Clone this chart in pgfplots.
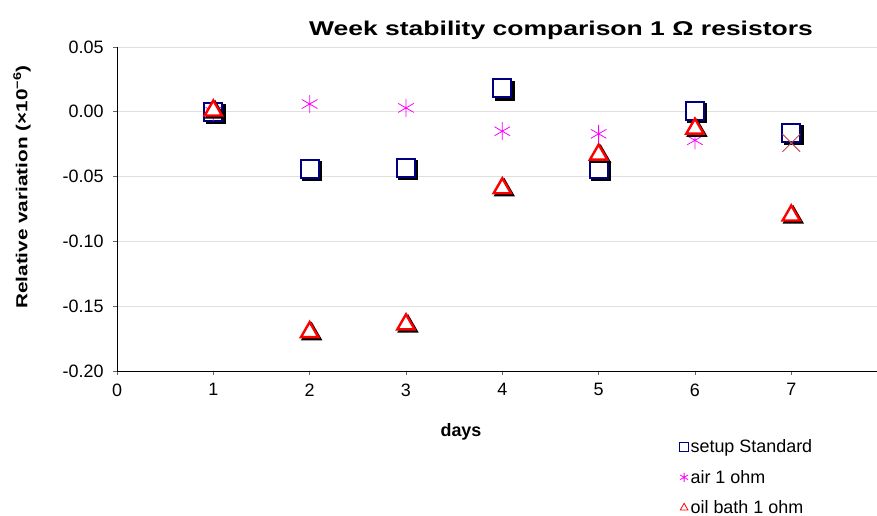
\documentclass[border=0pt]{standalone}
\usepackage{graphicx}
\usepackage{fontspec}
\setmainfont{Liberation Sans}
\usepackage{pgfplots}
\usepackage{pgfplotstable}
\pgfplotsset{compat=1.18}
\definecolor{stdnavy}{RGB}{0,0,128}
\definecolor{airmag}{RGB}{255,0,255}
\definecolor{oilred}{RGB}{255,0,0}
\definecolor{xbrown}{RGB}{192,80,77}

\pgfplotstableread{
day val
1 0.000
2 -0.044
3 -0.043
4 0.018
5 -0.044
6 0.001
7 -0.016
}\standard
\pgfplotstableread{
day val
1 0.000
2 0.006
3 0.003
4 -0.015
5 -0.017
6 -0.022
}\air
\pgfplotstableread{
day val
7 -0.024
}\airlast
\pgfplotstableread{
day val
1 0.001
2 -0.170
3 -0.164
4 -0.059
5 -0.033
6 -0.013
7 -0.080
}\oil

\begin{document}
\begin{tikzpicture}
\useasboundingbox (0bp,0bp) rectangle (877bp,516bp);
\begin{axis}[
  at={(117bp,145bp)}, anchor=south west,
  scale only axis, width=760bp, height=324bp,
  xmin=0, xmax=7.89, ymin=-0.2, ymax=0.05,
  xtick={0,...,7}, ytick={-0.2,-0.15,...,0.05},
  axis x line*=bottom, axis y line*=left,
  axis line style={black, line width=0.8bp, -},
  tick align=outside, major tick length=4bp,
  tick style={black!60, line width=0.6bp},
  ymajorgrids, grid style={black!12, line width=0.8bp},
  ticklabel style={font=\fontsize{18}{21}\selectfont},
  xticklabel style={yshift=-5bp},
  yticklabel style={xshift=-6bp},
  /pgf/number format/assume math mode=true,
  yticklabel style={/pgf/number format/fixed, /pgf/number format/fixed zerofill, /pgf/number format/precision=2},
  legend style={at={(0.74,-0.205)}, anchor=north west, draw=none, fill=none,
    font=\fontsize{18}{21}\selectfont, row sep=12bp, inner sep=0pt},
  legend cell align=left,
  legend image code/.code={\draw[#1, mark size=4.5bp, line width=0.8bp] plot coordinates {(0,0)};},
  clip=false,
]
% setup Standard: shadow then squares
\addplot[only marks, mark=square*, mark size=9bp, draw=black, fill=black, line width=2bp,
  mark options={xshift=2.5bp, yshift=-2.5bp}, forget plot] table[x=day, y=val] {\standard};
\addplot[only marks, mark=square*, mark size=9bp, draw=stdnavy, fill=white, line width=2bp] table[x=day, y=val] {\standard};
\addlegendentry{setup Standard}
% air 1 ohm
\addplot[only marks, mark=asterisk, mark size=9bp, draw=airmag, line width=0.8bp] table[x=day, y=val] {\air};
\addlegendentry{air 1 ohm}
\addplot[only marks, mark=x, mark size=12.5bp, draw=xbrown, line width=0.9bp, forget plot] table[x=day, y=val] {\airlast};
% oil bath 1 ohm
\addplot[only marks, mark=triangle*, mark size=10bp, draw=black, fill=black, line width=2.4bp,
  mark options={xshift=2bp, yshift=-2bp}, forget plot] table[x=day, y=val] {\oil};
\addplot[only marks, mark=triangle*, mark size=10bp, draw=oilred, fill=white, line width=2.4bp] table[x=day, y=val] {\oil};
\addlegendentry{oil bath 1 ohm}
\end{axis}
\node[font=\bfseries\fontsize{20}{24}\selectfont] at (561bp,486bp) {\scalebox{1.33}[1]{Week stability comparison 1 Ω resistors}};
\node[font=\bfseries\fontsize{16}{19}\selectfont, rotate=90] at (22bp,329bp) {\scalebox{1.3}[1]{Relative variation (×10\textsuperscript{−6})}};
\node[font=\bfseries\fontsize{18}{21}\selectfont] at (461bp,84bp) {days};
\end{tikzpicture}
\end{document}
